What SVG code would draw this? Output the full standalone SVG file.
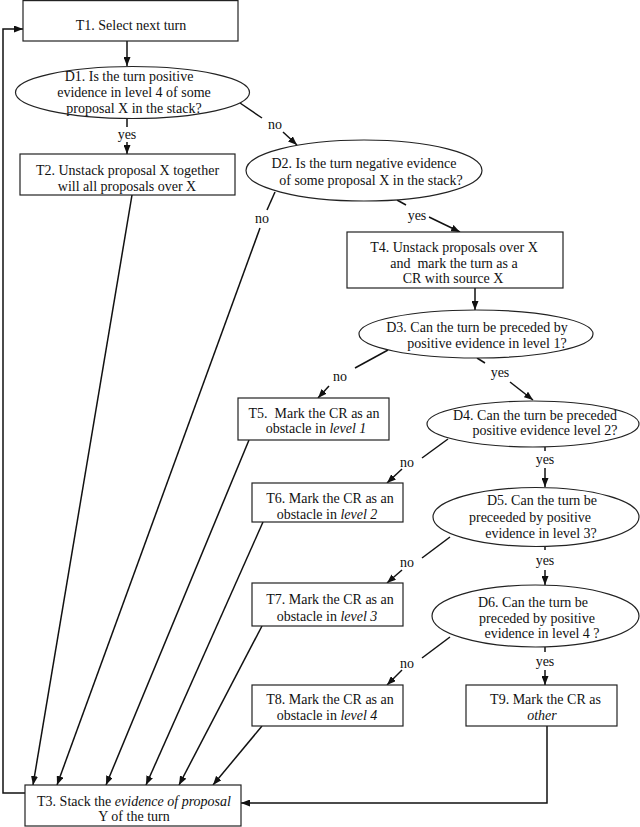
<svg xmlns="http://www.w3.org/2000/svg" width="640" height="827" viewBox="0 0 640 827">
<defs>
<marker id="ah" markerWidth="9" markerHeight="7" refX="9" refY="3.5" orient="auto" markerUnits="userSpaceOnUse">
<path d="M0,0 L9,3.5 L0,7 z" fill="#111"/>
</marker>
<style>
.box{fill:#fff;stroke:#222;stroke-width:1.2}
.dec{fill:#fff;stroke:#222;stroke-width:1.2}
text{font-family:"Liberation Serif","Times New Roman",serif;font-size:14px;fill:#111;text-anchor:middle;white-space:pre}
.it{font-style:italic}
.c{fill:none;stroke:#111;stroke-width:1.5}
.a{fill:none;stroke:#111;stroke-width:1.5;marker-end:url(#ah)}
</style>
</defs>
<rect width="640" height="827" fill="#fff"/>
<g id="connectors">
<line class="a" x1="127" y1="41" x2="127" y2="66"/>
<line class="c" x1="127" y1="118.5" x2="127" y2="127"/>
<line class="a" x1="127" y1="142" x2="127" y2="154"/>
<line class="c" x1="240" y1="103" x2="262" y2="118"/>
<line class="a" x1="283" y1="132" x2="297" y2="145"/>
<line class="c" x1="275" y1="192" x2="267" y2="210"/>
<line class="a" x1="260" y1="228" x2="57" y2="785"/>
<line class="c" x1="397" y1="200" x2="406" y2="205"/>
<line class="a" x1="429" y1="217" x2="460" y2="232"/>
<line class="a" x1="475" y1="288" x2="475" y2="310"/>
<line class="c" x1="388" y1="350" x2="355" y2="368"/>
<line class="a" x1="329" y1="386" x2="318" y2="398"/>
<line class="c" x1="477" y1="358" x2="485" y2="363"/>
<line class="a" x1="510" y1="382" x2="533" y2="400"/>
<line class="c" x1="448" y1="439" x2="422" y2="458"/>
<line class="a" x1="402" y1="469" x2="387" y2="483"/>
<line class="c" x1="545" y1="447" x2="545" y2="451"/>
<line class="a" x1="545" y1="468" x2="545" y2="487"/>
<line class="c" x1="450" y1="537" x2="422" y2="558"/>
<line class="a" x1="402" y1="570" x2="387" y2="583"/>
<line class="c" x1="545" y1="546" x2="545" y2="550"/>
<line class="a" x1="545" y1="570" x2="545" y2="585"/>
<line class="c" x1="450" y1="637" x2="422" y2="658"/>
<line class="a" x1="402" y1="670" x2="387" y2="685"/>
<line class="c" x1="545" y1="647" x2="545" y2="652"/>
<line class="a" x1="545" y1="670" x2="545" y2="685"/>
<line class="a" x1="132" y1="195" x2="33" y2="785"/>
<line class="a" x1="249" y1="440" x2="106" y2="785"/>
<line class="a" x1="263" y1="522" x2="146" y2="785"/>
<line class="a" x1="262" y1="626" x2="179" y2="785"/>
<line class="a" x1="262" y1="726" x2="213" y2="785"/>
<polyline class="a" points="547,726 547,803 241,803"/>
<polyline class="a" points="25,793 3,793 3,29 23,29"/>
<text x="275" y="129">no</text>
<text x="127" y="139">yes</text>
<text x="262" y="223">no</text>
<text x="417" y="220">yes</text>
<text x="340" y="381">no</text>
<text x="500" y="377">yes</text>
<text x="407" y="467">no</text>
<text x="545" y="464">yes</text>
<text x="407" y="567">no</text>
<text x="545" y="565">yes</text>
<text x="407" y="668">no</text>
<text x="545" y="666">yes</text>
</g>
<g id="T1">
<rect class="box" x="23" y="0.6" width="215" height="40.4"/>
<text x="131" y="30">T1. Select next turn</text>
</g>
<g id="D1">
<ellipse class="dec" cx="132.5" cy="92.5" rx="117" ry="26"/>
<text x="129" y="81">D1. Is the turn positive</text>
<text x="134" y="97">evidence in level 4 of some</text>
<text x="134" y="113">proposal X in the stack?</text>
</g>
<g id="T2">
<rect class="box" x="20" y="154" width="215" height="41"/>
<text x="127.5" y="175">T2. Unstack proposal X together</text>
<text x="127" y="191">will all proposals over X</text>
</g>
<g id="D2">
<ellipse class="dec" cx="364" cy="170.5" rx="118" ry="30.5"/>
<text x="364" y="168">D2. Is the turn negative evidence</text>
<text x="371" y="185">of some proposal X in the stack?</text>
</g>
<g id="T4">
<rect class="box" x="347" y="232" width="216" height="56"/>
<text x="454" y="252">T4. Unstack proposals over X</text>
<text x="454" y="268">and  mark the turn as a</text>
<text x="453" y="283">CR with source X</text>
</g>
<g id="D3">
<ellipse class="dec" cx="476" cy="334" rx="117" ry="24"/>
<text x="477" y="332">D3. Can the turn be preceded by</text>
<text x="487" y="348">positive evidence in level 1?</text>
</g>
<g id="T5">
<rect class="box" x="238" y="398" width="151" height="42"/>
<text x="314" y="418">T5.  Mark the CR as an</text>
<text x="316" y="433">obstacle in <tspan class="it">level 1</tspan></text>
</g>
<g id="D4">
<ellipse class="dec" cx="533" cy="424" rx="106" ry="23"/>
<text x="535" y="420">D4. Can the turn be preceded</text>
<text x="545" y="435">positive evidence level 2?</text>
</g>
<g id="T6">
<rect class="box" x="252" y="483" width="151" height="39"/>
<text x="330" y="503">T6. Mark the CR as an</text>
<text x="327" y="519">obstacle in <tspan class="it">level 2</tspan></text>
</g>
<g id="D5">
<ellipse class="dec" cx="536" cy="517" rx="103" ry="29.5"/>
<text x="542" y="505">D5. Can the turn be</text>
<text x="530" y="522">preceeded by positive</text>
<text x="541" y="538">evidence in level 3?</text>
</g>
<g id="T7">
<rect class="box" x="252" y="583" width="151" height="43"/>
<text x="330" y="604">T7. Mark the CR as an</text>
<text x="327" y="621">obstacle in <tspan class="it">level 3</tspan></text>
</g>
<g id="D6">
<ellipse class="dec" cx="535.5" cy="616" rx="103.5" ry="31"/>
<text x="533" y="607">D6. Can the turn be</text>
<text x="537" y="623">preceded by positive</text>
<text x="542" y="638">evidence in level 4 ?</text>
</g>
<g id="T8">
<rect class="box" x="252" y="685" width="151" height="41"/>
<text x="330" y="704">T8. Mark the CR as an</text>
<text x="327" y="720">obstacle in <tspan class="it">level 4</tspan></text>
</g>
<g id="T9">
<rect class="box" x="466" y="685" width="151" height="41"/>
<text x="545.5" y="704">T9. Mark the CR as</text>
<text x="542" y="720" class="it">other</text>
</g>
<g id="T3">
<rect class="box" x="25" y="785" width="216" height="41"/>
<text x="134" y="806">T3. Stack the <tspan class="it">evidence of proposal</tspan></text>
<text x="134" y="821">Y of the turn</text>
</g>
</svg>
